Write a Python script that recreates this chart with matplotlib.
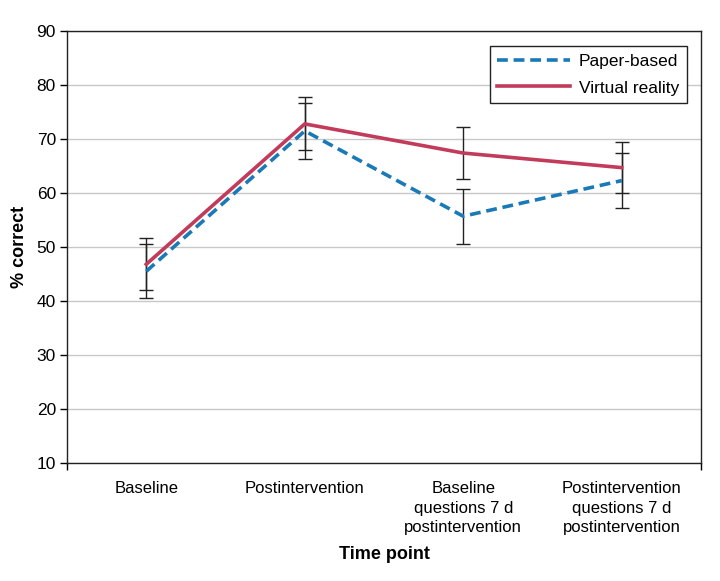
import matplotlib
matplotlib.use("Agg")
import matplotlib.pyplot as plt
import numpy as np

categories = ["Baseline", "Postintervention",
              "Baseline\nquestions 7 d\npostintervention",
              "Postintervention\nquestions 7 d\npostintervention"]
paper = [45.5, 71.5, 55.7, 62.3]
paper_err = [5.0, 5.2, 5.1, 5.1]
vr = [46.8, 72.8, 67.4, 64.7]
vr_err = [4.8, 4.9, 4.8, 4.7]
yticks = [10, 20, 30, 40, 50, 60, 70, 80, 90]

plt.rcParams['font.family'] = ['Liberation Sans', 'DejaVu Sans']

fig = plt.figure(figsize=(7.2, 5.81), dpi=100)
ax = fig.add_axes([0.0931, 0.2031, 0.8805, 0.7435])
x = np.arange(len(categories))

blue = "#1a7ab8"
red = "#c23b5b"

ax.errorbar(x, paper, yerr=paper_err, fmt="none", ecolor="#222222",
            elinewidth=1.0, capsize=5, capthick=1.0, zorder=3)
ax.errorbar(x, vr, yerr=vr_err, fmt="none", ecolor="#222222",
            elinewidth=1.0, capsize=5, capthick=1.0, zorder=3)
ax.plot(x, paper, color=blue, lw=2.6, ls=(0, (3, 1.6)), label="Paper-based", zorder=4)
ax.plot(x, vr, color=red, lw=2.6, label="Virtual reality", zorder=4)

ax.set_xlim(-0.5, 3.5)
ax.set_ylim(10, 90)
ax.set_yticks(yticks)
ax.set_xticks(x)
ax.set_xticklabels(categories, fontsize=12, linespacing=1.38)
ax.tick_params(axis="x", length=0, pad=13)
ax.set_xticks([-0.5, 3.5], minor=True)
ax.tick_params(axis="x", which="minor", length=5, direction="out", width=1)
ax.tick_params(axis="y", length=5, direction="out", labelsize=12.5, width=1, pad=3)
ax.yaxis.grid(True, color="#c8c8c8", lw=1)
ax.set_axisbelow(True)
for s in ax.spines.values():
    s.set_color("#222222")
    s.set_linewidth(1)

ax.set_ylabel("% correct", fontsize=13, fontweight="bold", labelpad=6)
ax.set_xlabel("Time point", fontsize=13, fontweight="bold", labelpad=8)

leg = ax.legend(loc="upper right", bbox_to_anchor=(0.978, 0.965), borderaxespad=0,
                fontsize=12.5, frameon=True, fancybox=False, edgecolor="#222222",
                handlelength=4.2, borderpad=0.45, labelspacing=0.65, handletextpad=0.5)
leg.get_frame().set_linewidth(1)
leg.get_frame().set_alpha(1)

fig.savefig("out.png", dpi=100)
